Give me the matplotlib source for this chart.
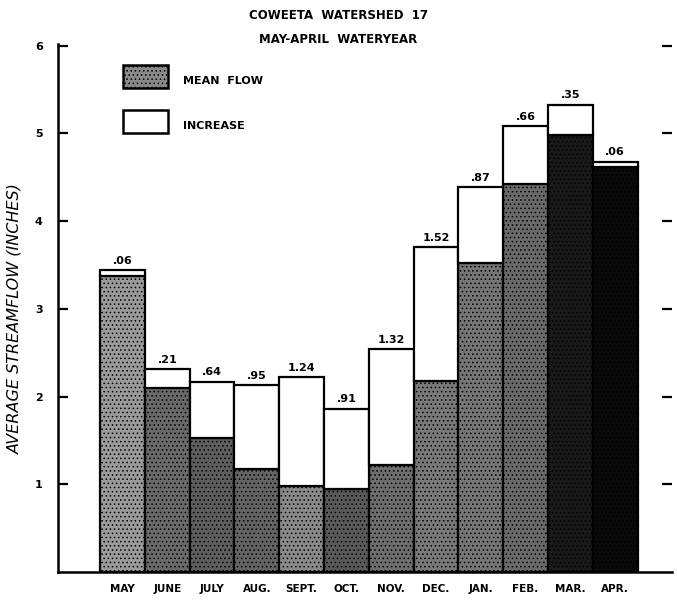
import numpy as np
import matplotlib.pyplot as plt
from matplotlib.patches import Rectangle

meses = ["MAY", "JUNE", "JULY", "AUG.", "SEPT.", "OCT.", "NOV.", "DEC.", "JAN.", "FEB.", "MAR.", "APR."]
fluxo_medio = [3.38, 2.10, 1.53, 1.18, 0.98, 0.95, 1.22, 2.18, 3.52, 4.42, 4.98, 4.62]
aumento = [0.06, 0.21, 0.64, 0.95, 1.24, 0.91, 1.32, 1.52, 0.87, 0.66, 0.35, 0.06]
rotulos_aumento = [".06", ".21", ".64", ".95", "1.24", ".91", "1.32", "1.52", ".87", ".66", ".35", ".06"]

# tons do pontilhado (so estilo)
tons = ["#9a9a9a", "#6a6a6a", "#5e5e5e", "#646464", "#8a8a8a", "#5a5a5a",
        "#6e6e6e", "#7a7a7a", "#767676", "#6a6a6a", "#1a1a1a", "#0a0a0a"]

plt.rcParams['font.family'] = ['DejaVu Sans']
plt.rcParams['hatch.linewidth'] = 0.6

fig = plt.figure(figsize=(6.77, 6.04), dpi=100)
ax = fig.add_axes([58/677, 1 - 572/604, (672 - 58)/677, (572 - 44)/604])

x = np.arange(len(meses))
ax.bar(x, fluxo_medio, width=1.0, color=tons, edgecolor="black", linewidth=1.6,
       hatch="....")
ax.bar(x, aumento, bottom=fluxo_medio, width=1.0, color="white",
       edgecolor="black", linewidth=1.6)

for xi, base, inc, rot in zip(x, fluxo_medio, aumento, rotulos_aumento):
    ax.text(xi, base + inc + 0.05, rot, ha="center", va="bottom",
            fontsize=8, fontweight="bold")

ax.set_xlim(-1.44, 12.27)
ax.set_ylim(0, 6.02)
ax.set_xticks(x)
ax.set_xticklabels(meses, fontsize=7.5, fontweight="bold")
ax.tick_params(axis="x", length=0, pad=9)
ax.set_yticks([1, 2, 3, 4, 5, 6])
ax.set_yticklabels(["1", "2", "3", "4", "5", "6"], fontsize=8, fontweight="bold")
ax.tick_params(axis="y", direction="in", length=7, width=1.6, pad=11,
               right=True)
ax.spines["top"].set_visible(False)
ax.spines["right"].set_visible(False)
ax.spines["left"].set_linewidth(1.8)
ax.spines["bottom"].set_linewidth(1.8)

ax.set_ylabel("AVERAGE STREAMFLOW (INCHES)", fontsize=11.5, style="italic")
ax.yaxis.set_label_coords(-0.058, 0.48)

# legenda desenhada a mao
ax.add_patch(Rectangle((0.01, 5.52), 1.0, 0.26, facecolor="#8a8a8a",
                       edgecolor="black", linewidth=1.8, hatch="....",
                       clip_on=False))
ax.add_patch(Rectangle((0.01, 5.01), 1.0, 0.26, facecolor="white",
                       edgecolor="black", linewidth=1.8, clip_on=False))
ax.text(1.35, 5.6, "MEAN  FLOW", fontsize=8, fontweight="bold", va="center")
ax.text(1.35, 5.08, "INCREASE", fontsize=8, fontweight="bold", va="center")

fig.text(0.5, 0.975, "COWEETA  WATERSHED  17", ha="center", va="center",
         fontsize=8.5, fontweight="bold")
fig.text(0.5, 0.935, "MAY-APRIL  WATERYEAR", ha="center", va="center",
         fontsize=8.5, fontweight="bold")

fig.savefig("out.png", dpi=100)
